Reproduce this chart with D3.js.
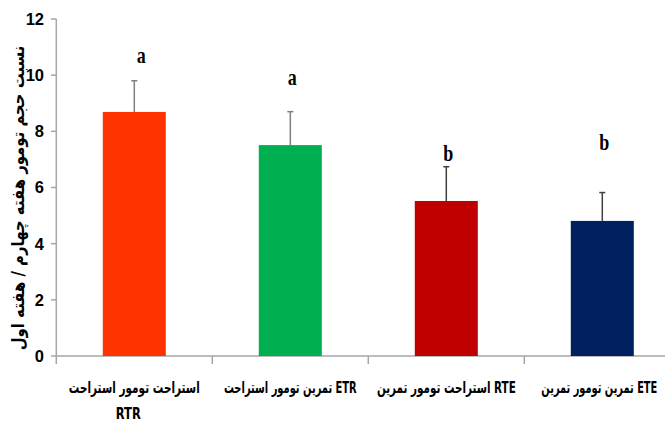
<!DOCTYPE html>
<html>
<head>
<meta charset="utf-8">
<script src="https://cdn.jsdelivr.net/npm/d3@7"></script>
<style>
  body { margin: 0; background: #fff; }
  .tick-label { font-family: "Liberation Sans Narrow", "Arial Narrow", "Liberation Sans", sans-serif; font-weight: bold; font-size: 16.5px; fill: #000; }
  .cat-label { font-family: "DejaVu Sans Condensed", "DejaVu Sans", sans-serif; font-weight: bold; font-size: 16px; fill: #000; }
  .y-title { font-family: "DejaVu Sans Condensed", "DejaVu Sans", sans-serif; font-weight: bold; font-size: 17px; fill: #000; }
  .sig { font-family: "Liberation Serif", "Times New Roman", serif; font-weight: bold; font-size: 24px; fill: #000; }
</style>
</head>
<body>
<div id="chart"></div>
<script>
// data
const categories = ["RTR", "ETR", "RTE", "ETE"];
const labelLine1 = ["استراحت تومور استراحت", "تمرین تومور استراحت ETR", "استراحت تومور تمرین RTE", "تمرین تومور تمرین ETE"];
const labelLine2 = ["RTR", "", "", ""];
const values = [8.69, 7.51, 5.52, 4.81];
const errors = [1.11, 1.19, 1.22, 1.01];
const sigLetters = ["a", "a", "b", "b"];
const sigLevels = [10.43, 9.65, 6.94, 7.34];
const colors = ["#FF3300", "#00B050", "#C00000", "#002060"];
const yTicks = [0, 2, 4, 6, 8, 10, 12];
const yTitle = "نسبت حجم تومور هفته چهارم / هفته اول";

document.addEventListener("DOMContentLoaded", function () {
  const width = 665, height = 423;
  const svg = d3.select("#chart").append("svg")
    .attr("width", width)
    .attr("height", height);

  const x = d3.scaleBand().domain(categories).range([56.3, 680.3]);
  const y = d3.scaleLinear().domain([0, 12]).range([356, 19]);
  const barW = x.bandwidth() * 0.404;
  const axisColor = "#A6A6A6";
  const mid = d => x(d) + x.bandwidth() / 2;

  // y axis
  svg.append("line")
    .attr("x1", 56.3).attr("x2", 56.3)
    .attr("y1", y(12)).attr("y2", y(0))
    .attr("stroke", axisColor).attr("stroke-width", 1.5);
  svg.selectAll(".ytick").data(yTicks).enter().append("line")
    .attr("x1", 51).attr("x2", 56.3)
    .attr("y1", d => y(d)).attr("y2", d => y(d))
    .attr("stroke", axisColor).attr("stroke-width", 1.5);
  svg.selectAll(".ylab").data(yTicks).enter().append("text")
    .attr("class", "tick-label")
    .attr("x", 44)
    .attr("y", d => y(d))
    .attr("dy", "0.36em")
    .attr("text-anchor", "end")
    .text(d => d);

  // x axis
  svg.append("line")
    .attr("x1", 56.3).attr("x2", width)
    .attr("y1", y(0)).attr("y2", y(0))
    .attr("stroke", axisColor).attr("stroke-width", 1.5);
  svg.selectAll(".xtick").data(categories).enter().append("line")
    .attr("x1", d => x(d)).attr("x2", d => x(d))
    .attr("y1", y(0)).attr("y2", y(0) + 8)
    .attr("stroke", axisColor).attr("stroke-width", 1.5);

  // bars
  svg.selectAll(".bar").data(categories).enter().append("rect")
    .attr("x", d => mid(d) - barW / 2)
    .attr("y", (d, i) => y(values[i]))
    .attr("width", barW)
    .attr("height", (d, i) => y(0) - y(values[i]))
    .attr("fill", (d, i) => colors[i]);

  // error bars
  const errColor = (d, i) => i < 2 ? "#7F7F7F" : "#404040";
  const eb = svg.selectAll(".err").data(categories).enter().append("g");
  eb.append("line")
    .attr("x1", mid).attr("x2", mid)
    .attr("y1", (d, i) => y(values[i]))
    .attr("y2", (d, i) => y(values[i] + errors[i]))
    .attr("stroke", errColor)
    .attr("stroke-width", 1.5);
  eb.append("line")
    .attr("x1", d => mid(d) - 3)
    .attr("x2", d => mid(d) + 3)
    .attr("y1", (d, i) => y(values[i] + errors[i]))
    .attr("y2", (d, i) => y(values[i] + errors[i]))
    .attr("stroke", errColor)
    .attr("stroke-width", 1.5);

  // significance letters
  svg.selectAll(".sig").data(categories).enter().append("text")
    .attr("class", "sig")
    .attr("text-anchor", "middle")
    .attr("transform", (d, i) => "translate(" + (mid(d) + (i === 0 ? 7 : 2)) + "," + y(sigLevels[i]) + ") scale(0.75,1)")
    .text((d, i) => sigLetters[i]);

  // category labels, squeezed horizontally to fit their band
  const fitWidth = [131, 133, 139, 116];
  function squeeze(sel, cx, yy, fit) {
    sel.each(function (d, i) {
      const w = this.getComputedTextLength();
      const k = w > 0 ? Math.min(1, fit(i, w) / w) : 1;
      d3.select(this).attr("transform", "translate(" + cx(d, i) + "," + yy + ") scale(" + k + ",1)");
    });
  }
  const line1 = svg.selectAll(".cat1").data(categories).enter().append("text")
    .attr("class", "cat-label")
    .attr("text-anchor", "middle")
    .attr("direction", "ltr")
    .text((d, i) => labelLine1[i]);
  squeeze(line1, (d, i) => i === 3 ? mid(d) - 3 : mid(d), 393, i => fitWidth[i]);

  const line2 = svg.selectAll(".cat2").data(categories).enter().append("text")
    .attr("class", "cat-label")
    .attr("text-anchor", "middle")
    .text((d, i) => labelLine2[i]);
  squeeze(line2, d => mid(d) - 6, 419, (i, w) => w * 0.8);

  // y title
  const title = svg.append("text")
    .attr("class", "y-title")
    .attr("text-anchor", "middle")
    .text(yTitle);
  const tw = title.node().getComputedTextLength();
  title.attr("transform", "translate(24,198) rotate(-90) scale(" + (305 / tw) + ",1)");
});
</script>
</body>
</html>
